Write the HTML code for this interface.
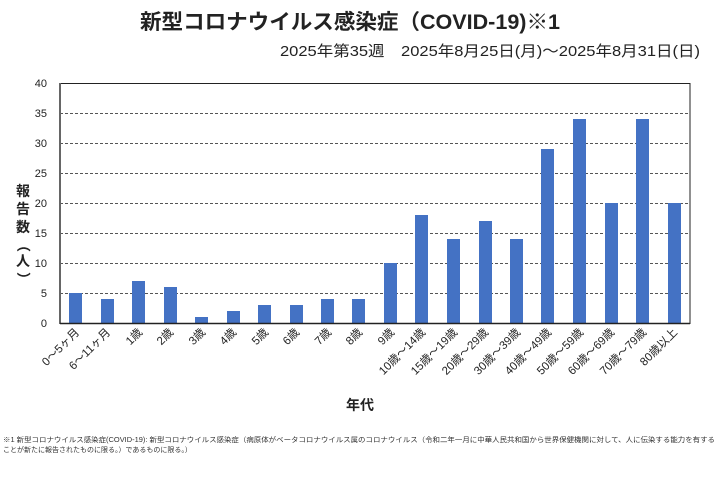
<!DOCTYPE html>
<html><head><meta charset="utf-8"><style>
body{margin:0;background:#fff;width:720px;height:474px;overflow:hidden;font-family:"Liberation Sans","Noto Sans CJK JP",sans-serif;}
</style></head><body>
<svg width="720" height="474" xmlns="http://www.w3.org/2000/svg" font-family="Liberation Sans, Noto Sans CJK JP, sans-serif">
<text x="350" y="29" text-anchor="middle" font-size="21" font-weight="bold" fill="#222" textLength="420" lengthAdjust="spacingAndGlyphs">新型コロナウイルス感染症（COVID-19)※1</text>
<text x="700" y="56" text-anchor="end" font-size="15" fill="#222" textLength="420" lengthAdjust="spacingAndGlyphs">2025年第35週　2025年8月25日(月)～2025年8月31日(日)</text>
<g stroke="#555" stroke-dasharray="3,2" stroke-width="1">
<line x1="60" x2="690" y1="83.5" y2="83.5"/><line x1="60" x2="690" y1="113.5" y2="113.5"/><line x1="60" x2="690" y1="143.5" y2="143.5"/><line x1="60" x2="690" y1="173.5" y2="173.5"/><line x1="60" x2="690" y1="203.5" y2="203.5"/><line x1="60" x2="690" y1="233.5" y2="233.5"/><line x1="60" x2="690" y1="263.5" y2="263.5"/><line x1="60" x2="690" y1="293.5" y2="293.5"/>
</g>
<g font-size="11" fill="#222" text-anchor="end">
<text x="47" y="87">40</text><text x="47" y="117">35</text><text x="47" y="147">30</text><text x="47" y="177">25</text><text x="47" y="207">20</text><text x="47" y="237">15</text><text x="47" y="267">10</text><text x="47" y="297">5</text><text x="47" y="327">0</text>
</g>
<g fill="#4472C4">
<rect x="69" y="293" width="13" height="30"/><rect x="101" y="299" width="13" height="24"/><rect x="132" y="281" width="13" height="42"/><rect x="164" y="287" width="13" height="36"/><rect x="195" y="317" width="13" height="6"/><rect x="227" y="311" width="13" height="12"/><rect x="258" y="305" width="13" height="18"/><rect x="290" y="305" width="13" height="18"/><rect x="321" y="299" width="13" height="24"/><rect x="352" y="299" width="13" height="24"/><rect x="384" y="263" width="13" height="60"/><rect x="415" y="215" width="13" height="108"/><rect x="447" y="239" width="13" height="84"/><rect x="479" y="221" width="13" height="102"/><rect x="510" y="239" width="13" height="84"/><rect x="541" y="149" width="13" height="174"/><rect x="573" y="119" width="13" height="204"/><rect x="605" y="203" width="13" height="120"/><rect x="636" y="119" width="13" height="204"/><rect x="668" y="203" width="13" height="120"/>
</g>
<rect x="60" y="83.5" width="630" height="240" fill="none" stroke="#222" stroke-width="1"/>
<line x1="60" x2="60" y1="83" y2="324" stroke="#666" stroke-width="2"/>
<line x1="60" x2="690" y1="323.5" y2="323.5" stroke="#222" stroke-width="1.5"/>
<g font-size="11.5" fill="#222" text-anchor="end">
<text transform="translate(80,333) rotate(-45)">0～5ヶ月</text>
<text transform="translate(111,333) rotate(-45)">6～11ヶ月</text>
<text transform="translate(143,333) rotate(-45)">1歳</text>
<text transform="translate(174,333) rotate(-45)">2歳</text>
<text transform="translate(206,333) rotate(-45)">3歳</text>
<text transform="translate(237,333) rotate(-45)">4歳</text>
<text transform="translate(269,333) rotate(-45)">5歳</text>
<text transform="translate(300,333) rotate(-45)">6歳</text>
<text transform="translate(332,333) rotate(-45)">7歳</text>
<text transform="translate(363,333) rotate(-45)">8歳</text>
<text transform="translate(395,333) rotate(-45)">9歳</text>
<text transform="translate(426,333) rotate(-45)">10歳～14歳</text>
<text transform="translate(458,333) rotate(-45)">15歳～19歳</text>
<text transform="translate(489,333) rotate(-45)">20歳～29歳</text>
<text transform="translate(521,333) rotate(-45)">30歳～39歳</text>
<text transform="translate(552,333) rotate(-45)">40歳～49歳</text>
<text transform="translate(584,333) rotate(-45)">50歳～59歳</text>
<text transform="translate(615,333) rotate(-45)">60歳～69歳</text>
<text transform="translate(647,333) rotate(-45)">70歳～79歳</text>
<text transform="translate(678,333) rotate(-45)">80歳以上</text>
</g>
<text x="360" y="410" text-anchor="middle" font-size="14" font-weight="bold" fill="#222">年代</text>
<g font-size="14" font-weight="bold" fill="#222" text-anchor="middle">
<text x="23" y="196">報</text><text x="23" y="214">告</text><text x="23" y="232">数</text>
<text x="23" y="250" transform="rotate(90 23 245)">（</text><text x="23" y="266">人</text>
<text x="23" y="284" transform="rotate(90 23 279)">）</text>
</g>
<g font-size="7" fill="#333">
<text x="3" y="442" textLength="712" lengthAdjust="spacingAndGlyphs">※1 新型コロナウイルス感染症(COVID-19): 新型コロナウイルス感染症（病原体がベータコロナウイルス属のコロナウイルス（令和二年一月に中華人民共和国から世界保健機関に対して、人に伝染する能力を有する</text>
<text x="3" y="452">ことが新たに報告されたものに限る。）であるものに限る。）</text>
</g>
</svg>
</body></html>
